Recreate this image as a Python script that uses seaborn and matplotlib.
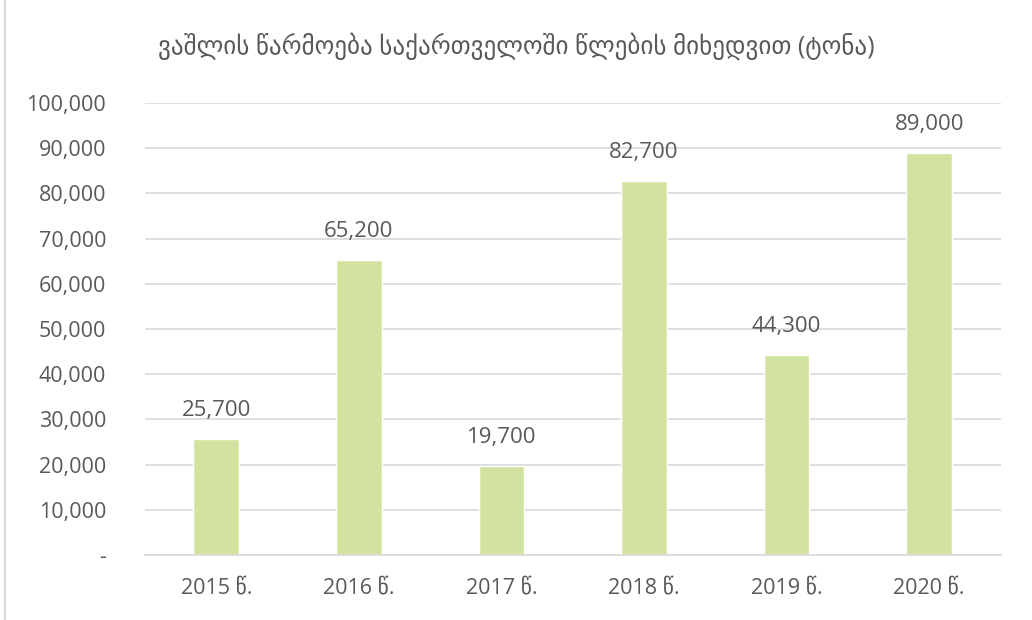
#!/usr/bin/env python3

"""Apple production in Georgia by year, bar chart."""

import seaborn as sns
import pandas as pd
import matplotlib.pyplot as plt
from matplotlib.patches import Rectangle
from matplotlib.ticker import FuncFormatter

# DATA
years = ["2015 წ.", "2016 წ.", "2017 წ.", "2018 წ.", "2019 წ.", "2020 წ."]
tonnes = [25700, 65200, 19700, 82700, 44300, 89000]
title = "ვაშლის წარმოება საქართველოში წლების მიხედვით (ტონა)"

bar_color = "#d1e39e"
text_color = "#595959"
grid_color = "#d9d9d9"

sns.set_theme(style="white")
plt.rcParams["font.family"] = ["Open Sans", "DejaVu Sans"]

df = pd.DataFrame({"year": years, "tonnes": tonnes})

fig = plt.figure(figsize=(10.32, 6.2), dpi=100)
ax = fig.add_axes([0.1405, 0.105, 0.829, 0.729])

sns.barplot(data=df, x="year", y="tonnes", color=bar_color, width=0.32,
            saturation=1, ax=ax)

ax.set_ylim(0, 100000)
ax.set_yticks(range(0, 100001, 10000))
ax.yaxis.set_major_formatter(FuncFormatter(lambda v, p: "-" if v == 0 else f"{v:,.0f}"))
ax.yaxis.grid(True, color=grid_color, linewidth=1.2)
ax.set_axisbelow(True)
for s in ["top", "right", "left"]:
    ax.spines[s].set_visible(False)
ax.spines["bottom"].set_color(grid_color)
ax.spines["bottom"].set_linewidth(1.2)

ax.set_xlabel("")
ax.set_ylabel("")
ax.tick_params(axis="y", labelsize=15.5, colors=text_color, length=0, pad=28)
ax.tick_params(axis="x", labelsize=15.5, colors=text_color, length=0, pad=16)

ax.bar_label(ax.containers[0], labels=[f"{v:,}" for v in tonnes],
             padding=13, fontsize=16, color=text_color)

fig.text(0.5, 0.925, title, ha="center", va="center", fontsize=18, color=text_color)

# light chart frame
fig.patches.append(Rectangle((0.005, -0.01), 1.2, 1.2, transform=fig.transFigure,
                             fill=False, edgecolor=grid_color, linewidth=1.5))

fig.savefig("out.png", dpi=100)
